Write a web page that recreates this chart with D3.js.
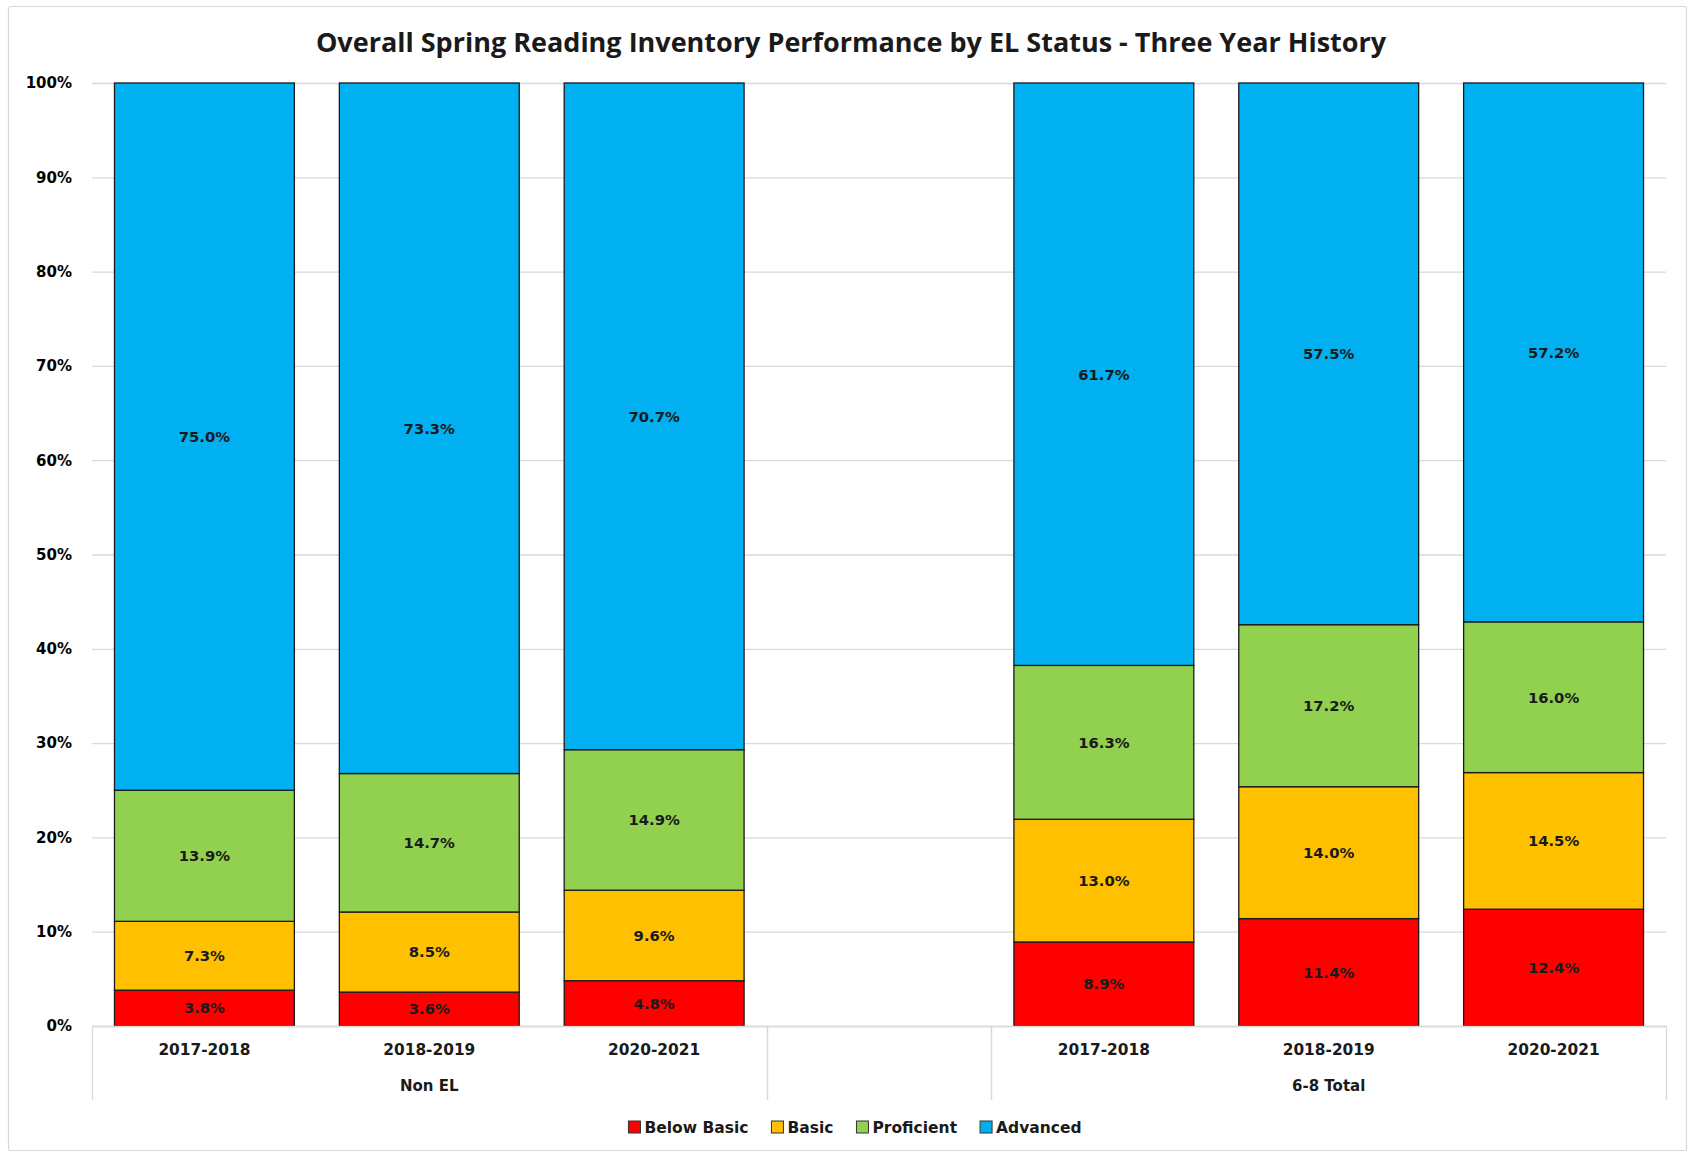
<!DOCTYPE html>
<html><head><meta charset="utf-8">
<script src="https://cdn.jsdelivr.net/npm/d3@7"></script>
<style>
html,body{margin:0;padding:0;background:#fff;}
svg{display:block;}
</style></head>
<body>
<svg id="chart" width="1691" height="1153"></svg>
<script>
// ---- data ----
const title = "Overall Spring Reading Inventory Performance by EL Status - Three Year History";
const groups = ["Non EL", "", "6-8 Total"];
const years = ["2017-2018", "2018-2019", "2020-2021"];
const categoryGroup = ["Non EL", "Non EL", "Non EL", "", "6-8 Total", "6-8 Total", "6-8 Total"];
const categoryYear = ["2017-2018", "2018-2019", "2020-2021", "", "2017-2018", "2018-2019", "2020-2021"];
const seriesNames = ["Below Basic", "Basic", "Proficient", "Advanced"];
const belowBasic = [3.8, 3.6, 4.8, null, 8.9, 11.4, 12.4];
const basic      = [7.3, 8.5, 9.6, null, 13.0, 14.0, 14.5];
const proficient = [13.9, 14.7, 14.9, null, 16.3, 17.2, 16.0];
const advanced   = [75.0, 73.3, 70.7, null, 61.7, 57.5, 57.2];
const yTicks = [0, 10, 20, 30, 40, 50, 60, 70, 80, 90, 100];

const colors = ["#FF0000", "#FFC000", "#92D050", "#00B0F0"];
const seriesValues = [belowBasic, basic, proficient, advanced];

// ---- layout ----
const svg = d3.select("#chart");
const plot = {left: 92, right: 1666, top: 83, bottom: 1026};
const FONT = "'DejaVu Sans', Verdana, sans-serif";

svg.append("rect").attr("x", 8.5).attr("y", 6.5).attr("width", 1678).attr("height", 1144)
  .attr("fill", "#fff").attr("stroke", "#d9d9d9").attr("stroke-width", 1.2).attr("rx", 2);

const keys = categoryGroup.map((g, i) => i + "|" + g + "|" + categoryYear[i]);
const rows = keys.map((k, i) => {
  const r = {key: k, idx: i};
  seriesNames.forEach((s, j) => r[s] = seriesValues[j][i] == null ? 0 : seriesValues[j][i]);
  return r;
});

const x = d3.scaleBand().domain(keys).range([plot.left, plot.right]).paddingInner(0.2).paddingOuter(0.1);
const y = d3.scaleLinear().domain([0, 1]).range([plot.bottom, plot.top]);

// y axis labels + gridlines
const yAxis = d3.axisLeft(y).tickValues(yTicks.map(v => v / 100))
  .tickFormat(v => Math.round(v * 100) + "%").tickSize(0).tickPadding(20);
const gy = svg.append("g").attr("transform", `translate(${plot.left},0)`).call(yAxis);
gy.select(".domain").remove();
gy.selectAll("text").attr("font-family", FONT).attr("font-weight", "bold").attr("font-size", 15).attr("fill", "#000");
svg.append("g").selectAll("line").data(yTicks).join("line")
  .attr("x1", plot.left).attr("x2", plot.right)
  .attr("y1", d => y(d / 100) + 0.5).attr("y2", d => y(d / 100) + 0.5)
  .attr("stroke", "#d9d9d9").attr("stroke-width", 1.3);

// stacked bars
const stack = d3.stack().keys(seriesNames).offset(d3.stackOffsetExpand);
const stacked = stack(rows.filter(r => seriesValues[0][r.idx] != null));
const layers = svg.append("g").selectAll("g").data(stacked).join("g")
  .attr("fill", (d, i) => colors[i]);
layers.selectAll("rect").data(d => d).join("rect")
  .attr("x", d => x(d.data.key))
  .attr("width", x.bandwidth())
  .attr("y", d => y(d[1]))
  .attr("height", d => y(d[0]) - y(d[1]))
  .attr("stroke", "#1a1a1a").attr("stroke-width", 1.3);

// data labels
const fmt = d3.format(".1f");
stacked.forEach((layer, j) => {
  svg.append("g").selectAll("text").data(layer).join("text")
    .attr("x", d => x(d.data.key) + x.bandwidth() / 2)
    .attr("y", d => (y(d[0]) + y(d[1])) / 2)
    .attr("dy", "0.36em")
    .attr("text-anchor", "middle")
    .attr("font-family", FONT).attr("font-weight", "bold").attr("font-size", 14.8)
    .attr("fill", "#1a1a1a")
    .text(d => fmt(seriesValues[j][d.data.idx]) + "%");
});

// category axis (multi-level)
const axisG = svg.append("g");
axisG.append("line").attr("x1", plot.left).attr("x2", plot.right)
  .attr("y1", plot.bottom + 0.5).attr("y2", plot.bottom + 0.5)
  .attr("stroke", "#d9d9d9").attr("stroke-width", 1.3);
const groupSpans = [];
categoryGroup.forEach((g, i) => {
  const last = groupSpans[groupSpans.length - 1];
  if (last && last.name === g) last.end = i; else groupSpans.push({name: g, start: i, end: i});
});
const bounds = new Set();
groupSpans.forEach(s => {
  bounds.add(x(keys[s.start]) - x.step() * x.paddingInner() / 2);
  bounds.add(x(keys[s.end]) + x.bandwidth() + x.step() * x.paddingInner() / 2);
});
axisG.selectAll("line.sep").data([...bounds]).join("line").attr("class", "sep")
  .attr("x1", d => Math.round(d) + 0.5).attr("x2", d => Math.round(d) + 0.5)
  .attr("y1", plot.bottom).attr("y2", 1100)
  .attr("stroke", "#d9d9d9").attr("stroke-width", 1.3);
axisG.selectAll("text.yr").data(keys).join("text").attr("class", "yr")
  .attr("x", d => x(d) + x.bandwidth() / 2).attr("y", 1055)
  .attr("text-anchor", "middle")
  .attr("font-family", FONT).attr("font-weight", "bold").attr("font-size", 15.4).attr("fill", "#1a1a1a")
  .text((d, i) => categoryYear[i]);
axisG.selectAll("text.grp").data(groupSpans.filter(s => s.name)).join("text").attr("class", "grp")
  .attr("x", s => (x(keys[s.start]) + x(keys[s.end]) + x.bandwidth()) / 2).attr("y", 1091)
  .attr("text-anchor", "middle")
  .attr("font-family", FONT).attr("font-weight", "bold").attr("font-size", 15).attr("fill", "#1a1a1a")
  .text(s => s.name);

// title
svg.append("text").attr("x", 851).attr("y", 52).attr("text-anchor", "middle")
  .attr("font-family", "'Open Sans', sans-serif").attr("font-weight", "bold").attr("font-size", 27)
  .attr("fill", "#1a1a1a").text(title);

// legend
const legend = svg.append("g");
let lx = 0;
seriesNames.forEach((s, i) => {
  const g = legend.append("g").attr("transform", `translate(${lx},0)`);
  g.append("rect").attr("x", 0).attr("y", -6).attr("width", 12).attr("height", 12)
    .attr("fill", colors[i]).attr("stroke", "#333").attr("stroke-width", 1);
  const t = g.append("text").attr("x", 16).attr("y", 0).attr("dy", "0.36em")
    .attr("font-family", FONT).attr("font-weight", "bold").attr("font-size", 15.5).attr("fill", "#1a1a1a").text(s);
  lx += 16 + t.node().getComputedTextLength() + 23;
});
const legendW = lx - 23;
legend.attr("transform", `translate(${855 - legendW / 2},1127)`);
</script>
</body></html>
